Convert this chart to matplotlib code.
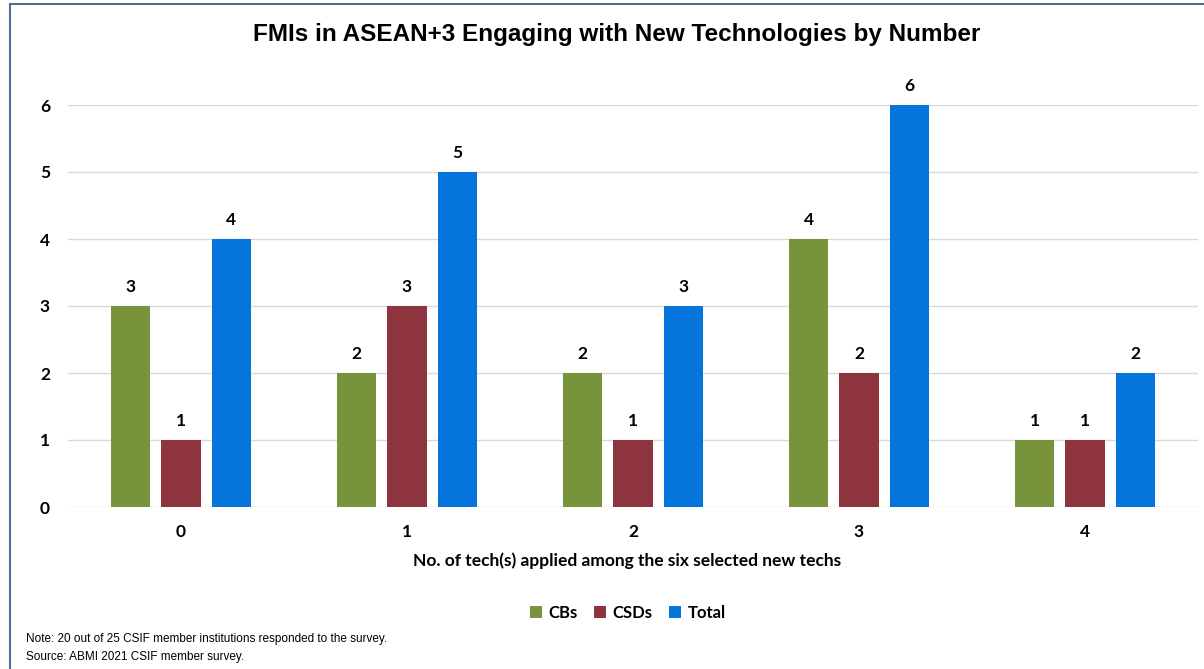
import numpy as np
import matplotlib
matplotlib.use('Agg')
from matplotlib import pyplot as plt
from matplotlib.patches import Rectangle

# data
categories = ['0', '1', '2', '3', '4']
series_names = ['CBs', 'CSDs', 'Total']
cbs = [3, 2, 2, 4, 1]
csds = [1, 3, 1, 2, 1]
total = [4, 5, 3, 6, 2]
colors = ['#77933C', '#8E343F', '#0575DB']

title = 'FMIs in ASEAN+3 Engaging with New Technologies by Number'
xlabel = 'No. of tech(s) applied among the six selected new techs'
notes = ['Note: 20 out of 25 CSIF member institutions responded to the survey.',
         'Source: ABMI 2021 CSIF member survey.']

lab_font = ['Lato', 'DejaVu Sans']
note_font = ['Liberation Sans Narrow', 'Liberation Sans', 'DejaVu Sans']

fig = plt.figure(figsize=(12.04, 6.69), dpi=100)
W, H = 1204, 669
ax = fig.add_axes([68/W, 1-507/H, (1198-68)/W, (507-105)/H])

x = np.arange(len(categories))
width = 0.173
offset = 0.223
for i, (vals, name) in enumerate(zip([cbs, csds, total], series_names)):
    pos = x + (i-1)*offset
    ax.bar(pos, vals, width, color=colors[i], label=name, zorder=3)
    for p, v in zip(pos, vals):
        ax.text(p, v + 0.17, str(v), ha='center', va='bottom', fontsize=12.5,
                fontweight='bold', family=lab_font)

ax.set_xlim(-0.5, 4.5)
ax.set_ylim(0, 6)
ax.set_yticks(range(0, 7))
ax.set_xticks(x)
ax.set_xticklabels(categories)
for s in ax.spines.values():
    s.set_visible(False)
ax.grid(axis='y', color='#D9D9D9', linewidth=1, zorder=0)
ax.tick_params(length=0)
ax.tick_params(axis='y', pad=13)
ax.tick_params(axis='x', pad=12)
for t in ax.get_xticklabels() + ax.get_yticklabels():
    t.set_fontsize(12.5)
    t.set_fontweight('bold')
    t.set_family(lab_font)

fig.text(617/W, 1-34/H, title, ha='center', va='center', fontsize=17.5,
         fontweight='bold', family=['Liberation Sans', 'DejaVu Sans'])
fig.text(627/W, 1-561/H, xlabel, ha='center', va='center', fontsize=12.5,
         fontweight='bold', family=lab_font)

fig.legend(loc='center', bbox_to_anchor=(628/W, 1-613/H), ncol=3,
           frameon=False, handlelength=0.7, handleheight=0.7,
           handletextpad=0.4, columnspacing=1.0,
           prop={'family': lab_font, 'weight': 'bold', 'size': 12})

fig.text(26/W, 1-639/H, notes[0], ha='left', va='center', fontsize=8.5,
         family=note_font)
fig.text(26/W, 1-657/H, notes[1], ha='left', va='center', fontsize=8.5,
         family=note_font)

# outer frame
fig.patches.append(Rectangle((10/W, -0.05), 1.1, 1-4/H+0.05,
                             transform=fig.transFigure, fill=False,
                             edgecolor='#4F6F96', linewidth=1.5))

fig.savefig('out.png', dpi=100)
